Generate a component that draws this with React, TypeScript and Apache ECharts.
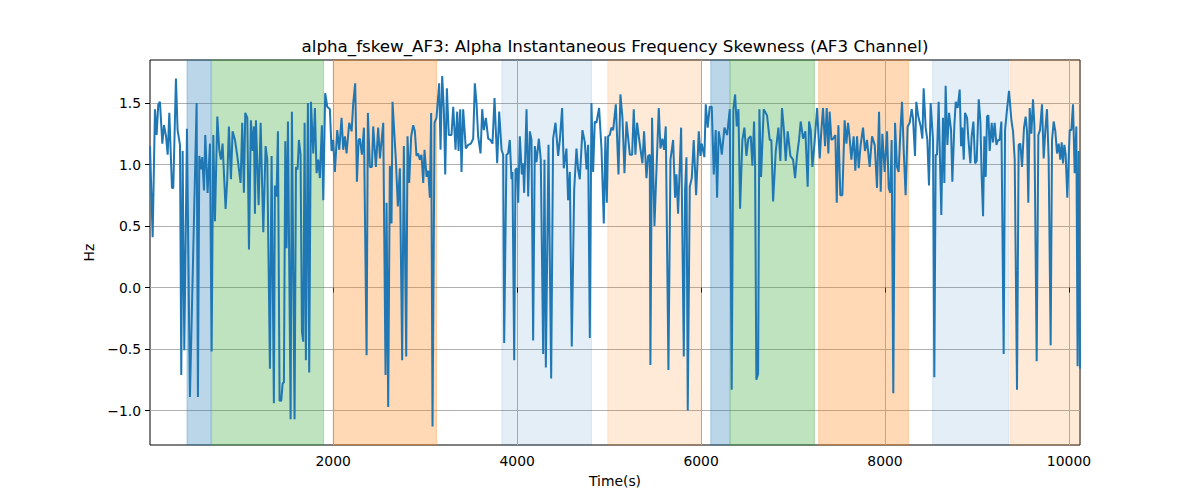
import { useEffect, useRef } from "react";
import * as echarts from "echarts";

const times = [
  8, 37, 62, 80, 98, 116, 142, 160, 182, 200, 218, 247, 261, 290, 308, 334, 348, 363, 381, 410,
  442, 515, 529, 544, 562, 576, 595, 609, 634, 660, 678, 696, 714, 740, 761, 779, 797, 830, 848, 866,
  888, 906, 932, 957, 993, 1011, 1029, 1044, 1066, 1084, 1105, 1124, 1138, 1149, 1160, 1189, 1211, 1240, 1265, 1283,
  1312, 1330, 1355, 1366, 1384, 1399, 1417, 1435, 1450, 1464, 1479, 1493, 1508, 1537, 1551, 1580, 1595, 1613, 1627, 1645,
  1660, 1674, 1689, 1703, 1725, 1739, 1758, 1783, 1801, 1819, 1837, 1855, 1877, 1892, 1913, 1935, 1964, 1982, 2000, 2018,
  2044, 2066, 2091, 2109, 2127, 2145, 2174, 2200, 2218, 2239, 2258, 2276, 2290, 2312, 2334, 2363, 2377, 2399, 2421, 2435,
  2464, 2489, 2508, 2544, 2569, 2580, 2598, 2616, 2634, 2645, 2681, 2703, 2725, 2750, 2768, 2794, 2808, 2826, 2848, 2870,
  2888, 2906, 2924, 2942, 2960, 2979, 2993, 3015, 3033, 3051, 3065, 3080, 3102, 3123, 3152, 3167, 3185, 3203, 3218, 3236,
  3257, 3286, 3305, 3330, 3348, 3363, 3381, 3395, 3413, 3442, 3468, 3497, 3522, 3540, 3558, 3576, 3602, 3620, 3638, 3660,
  3685, 3710, 3732, 3754, 3783, 3805, 3830, 3848, 3859, 3884, 3902, 3920, 3939, 3949, 3968, 3982, 4000, 4011, 4029, 4051,
  4065, 4076, 4102, 4120, 4138, 4156, 4174, 4192, 4210, 4236, 4257, 4283, 4297, 4312, 4341, 4370, 4391, 4417, 4446, 4464,
  4489, 4507, 4536, 4554, 4573, 4594, 4620, 4645, 4663, 4681, 4710, 4736, 4754, 4772, 4790, 4808, 4826, 4844, 4862, 4891,
  4917, 4942, 4960, 4975, 4989, 5007, 5025, 5044, 5073, 5102, 5123, 5145, 5167, 5189, 5225, 5250, 5268, 5286, 5304, 5333,
  5362, 5380, 5406, 5424, 5442, 5449, 5467, 5493, 5515, 5540, 5558, 5580, 5598, 5616, 5645, 5667, 5696, 5717, 5732, 5750,
  5783, 5812, 5826, 5841, 5855, 5877, 5899, 5920, 5946, 5975, 5993, 6007, 6036, 6051, 6072, 6094, 6116, 6138, 6159, 6174,
  6192, 6210, 6225, 6254, 6283, 6312, 6333, 6351, 6370, 6388, 6406, 6424, 6449, 6471, 6493, 6514, 6540, 6558, 6576, 6587,
  6601, 6620, 6634, 6652, 6681, 6717, 6746, 6764, 6783, 6812, 6841, 6862, 6880, 6902, 6920, 6942, 6971, 7000, 7022, 7043,
  7065, 7083, 7109, 7134, 7159, 7174, 7192, 7210, 7232, 7261, 7290, 7308, 7326, 7348, 7366, 7384, 7398, 7417, 7435, 7460,
  7475, 7493, 7514, 7536, 7561, 7580, 7598, 7616, 7634, 7659, 7677, 7696, 7714, 7735, 7761, 7782, 7804, 7833, 7859, 7888,
  7913, 7935, 7953, 7971, 7996, 8022, 8040, 8058, 8072, 8090, 8109, 8130, 8148, 8167, 8185, 8203, 8224, 8246, 8268, 8290,
  8304, 8326, 8340, 8362, 8388, 8406, 8420, 8442, 8460, 8478, 8496, 8522, 8536, 8551, 8565, 8583, 8612, 8630, 8645, 8659,
  8678, 8696, 8718, 8732, 8754, 8769, 8790, 8812, 8827, 8841, 8856, 8870, 8892, 8906, 8928, 8942, 8961, 8979, 8997, 9019,
  9037, 9051, 9066, 9080, 9095, 9109, 9124, 9138, 9160, 9174, 9192, 9211, 9229, 9247, 9265, 9290, 9305, 9327, 9348, 9374,
  9392, 9410, 9435, 9453, 9471, 9490, 9511, 9529, 9544, 9558, 9573, 9591, 9609, 9624, 9649, 9667, 9685, 9707, 9725, 9743,
  9761, 9779, 9801, 9816, 9834, 9852, 9870, 9888, 9906, 9921, 9935, 9950, 9964, 9982, 10008, 10026, 10044, 10062, 10080, 10094,
  10106, 10120,
];

const hz = [
  1.15, 0.41, 1.45, 1.24, 1.49, 1.51, 1.17, 1.32, 1.23, 1.08, 1.42, 0.81, 0.81, 1.7, 1.28, 1.16, -0.71, 1.11, -0.51, 1.29,
  -0.89, 1.5, -0.89, 1.07, 0.96, 1.06, 0.79, 1.24, 0.77, 1.17, -0.52, 1.24, 0.54, 1.39, 1.12, 1.04, 1.17, 0.64, 0.88, 1.31,
  0.88, 1.27, 1.2, 1.07, 0.85, 1.34, 0.77, 1.42, 1.38, 0.31, 1.36, 1.11, 1.31, 0.6, 1.36, 0.67, 1.34, 0.45, 1.15, 1.04,
  -0.66, 1.07, -0.94, 0.83, 0.74, 1.27, -0.92, -0.92, -0.78, -0.77, 1.19, 0.32, 1.35, -1.07, 1.43, -1.07, 0.98, 0.96, 1.2, 1.08,
  -0.36, -0.44, 1.34, -0.59, 1.5, -0.69, 1.51, 1.09, 1.46, 0.93, 1.04, 0.89, 1.32, 0.71, 1.58, 1.47, 1.45, 1.11, 1.2, 0.94,
  1.28, 1.12, 1.38, 1.12, 1.23, 1.09, 1.34, 1.27, 1.5, 1.66, 0.86, 1.2, 1.21, 1.08, 1.3, -0.55, 1.42, 0.98, 0.98, 1.31,
  0.98, 1.3, 1.05, 1.34, -0.71, 0.69, -0.97, 0.99, 0.52, 1.51, 1.04, 0.66, 0.97, -0.59, 1.15, -0.56, 1.23, 0.85, 1.23, 1.32,
  1.27, 1.07, 1.09, 1.04, 1.08, 0.85, 1.12, 0.9, 0.95, 0.73, 1.42, -1.13, 1.34, 1.38, 1.66, 1.12, 1.72, 1.45, 0.92, 1.62,
  1.24, 1.24, 1.47, 1.12, 1.43, 1.11, 1.45, 0.94, 1.45, 1.13, 1.16, 1.17, 1.21, 1.66, 1.5, 1.23, 1.09, 1.45, 1.28, 1.38,
  1.21, 1.2, 1.17, 1.54, 1.01, 1.43, 1.12, 1.08, -0.45, 1.08, 1.09, 1.2, 0.88, 0.94, -0.59, 0.96, 0.97, 0.69, 1.23, 0.92,
  1.01, 0.77, 1.45, 0.74, 1.27, 1.2, -0.43, 1.15, 1.02, 1.21, 1.04, -0.54, 1.04, -0.65, 1.16, -0.74, 1.21, 1.34, 1.07, 1.2,
  1.46, 0.97, 1.13, 0.71, 0.94, -0.48, 0.79, 1.13, 0.96, 0.88, 1.28, 1.18, 0.96, 1.16, -0.41, 1.5, 0.94, 1.35, 1.34, 1.46,
  1.13, 0.52, 1.23, 0.69, 1.23, 1.24, 1.3, 1.28, 1.49, 0.92, 1.57, 1.38, 0.93, 1.35, 1.08, 1.08, 1.45, 1.08, 1.34, 1.17,
  1.01, 1.27, 0.89, 1.07, 1.08, -0.63, 1.38, 0.5, 0.96, 1.46, 1.13, 1.21, 1.12, 1.31, -0.67, 1.04, 1.2, 0.73, 0.92, 0.6,
  1.3, -0.56, 0.79, 1.06, -1.0, 0.82, 0.89, 1.2, 0.75, 1.27, 1.07, 1.17, 1.06, 1.49, 1.3, 1.47, 1.47, 0.92, 1.28, 0.73,
  1.27, 1.18, 1.08, 1.3, 1.24, 1.45, -0.83, 1.45, 1.57, 1.31, 1.45, 0.64, 1.2, 1.3, 1.07, 1.21, 1.23, 0.99, 1.35, 1.0,
  -0.75, -0.7, 1.45, 0.9, 1.45, 1.4, 1.2, 1.2, 0.7, 1.11, 1.3, 1.03, 1.46, 1.27, 1.03, 1.27, 1.07, 1.04, 0.89, 1.07,
  1.2, 1.35, 1.21, 1.27, 0.82, 1.35, 1.28, 0.98, 1.16, 1.46, 1.05, 1.28, 1.46, 1.15, 1.46, 1.09, 1.43, 1.2, 1.21, 1.24,
  0.69, 1.32, 0.75, 0.75, 1.36, 1.17, 1.34, 1.21, 1.04, 1.23, 0.95, 1.23, 0.97, 1.16, 1.3, 1.11, 1.2, 0.98, 1.23, 1.16,
  0.81, 1.43, 0.78, 1.25, 0.94, 1.27, 0.81, 0.77, 1.2, -0.86, 1.34, 0.98, 0.94, 1.27, 1.51, 1.12, 0.75, 1.31, 1.34, 1.45,
  1.38, 1.07, 1.51, 1.39, 1.31, 1.21, 1.62, 1.3, 1.2, 0.83, 1.5, 1.2, -0.73, 1.08, 1.08, 1.51, 0.59, 1.38, 0.85, 1.64,
  1.16, 1.42, 1.28, 0.86, 1.32, 1.51, 1.46, 1.61, 1.15, 1.3, 1.04, 1.42, 1.38, 1.21, 1.01, 1.23, 1.35, 1.01, 1.03, 1.53,
  1.35, 0.9, 0.58, 1.23, 0.9, 1.39, 1.4, 1.11, 1.34, 1.18, 1.34, 1.16, 1.2, 1.2, 1.35, -0.54, 1.28, 1.45, 1.6, 1.36,
  1.27, 1.04, -0.83, 1.16, 1.17, 0.98, 1.3, 1.39, 1.27, 0.69, 1.46, 1.25, 1.53, 1.32, -0.6, 1.24, 1.28, 1.49, 1.05, 1.28,
  1.45, 1.05, -0.47, 1.2, 1.35, 1.27, 1.09, 1.17, 1.04, 1.18, 1.01, 1.16, 1.08, 0.73, 1.28, 1.28, 1.49, 0.93, 1.31, -0.64,
  1.11, -0.66,
];

// shaded segments (start, end, colour)
const bandStart = [410, 678, 2000, 3834, 4986, 6105, 6319, 7279, 8518, 9366];
const bandEnd = [671, 1895, 3124, 4808, 6004, 6312, 7232, 8254, 9348, 10120];
const bandColor = [
  "rgba(31,119,180,0.3)",
  "rgba(44,160,44,0.3)",
  "rgba(255,127,14,0.3)",
  "rgba(31,119,180,0.12)",
  "rgba(255,127,14,0.16)",
  "rgba(31,119,180,0.3)",
  "rgba(44,160,44,0.3)",
  "rgba(255,127,14,0.3)",
  "rgba(31,119,180,0.12)",
  "rgba(255,127,14,0.16)",
];

const xTicks = [2000, 4000, 6000, 8000, 10000];
const yTicks = [-1, -0.5, 0, 0.5, 1, 1.5];

const FONT = "DejaVu Sans";

export default function App() {
  const chartRef = useRef<HTMLDivElement>(null);

  useEffect(() => {
    document.body.style.margin = "0";
    if (!chartRef.current) return;
    const chart = echarts.init(chartRef.current, undefined, { renderer: "svg" });

    const points = times.map((t, i) => [t, hz[i]]);
    const areas = bandStart.map((s, i) => [
      {
        xAxis: s,
        itemStyle: { color: bandColor[i], borderColor: bandColor[i], borderWidth: 1 },
      },
      { xAxis: bandEnd[i] },
    ]);

    chart.setOption({
      animation: false,
      textStyle: { fontFamily: FONT },
      grid: {
        left: 150,
        right: 120,
        top: 60,
        bottom: 55,
        show: true,
        borderColor: "#000",
        borderWidth: 1,
        backgroundColor: "transparent",
      },
      graphic: [
        {
          type: "text",
          x: 615,
          y: 46,
          style: {
            text: "alpha_fskew_AF3: Alpha Instantaneous Frequency Skewness (AF3 Channel)",
            fontFamily: FONT,
            fontSize: 16.7,
            fill: "#000",
            align: "center",
            verticalAlign: "middle",
          },
        },
      ],
      xAxis: {
        type: "value",
        min: 8,
        max: 10120,
        name: "Time(s)",
        nameLocation: "middle",
        nameGap: 29,
        nameTextStyle: { fontFamily: FONT, fontSize: 13.9, color: "#000" },
        axisLine: { show: false },
        axisTick: {
          show: true,
          length: 5,
          customValues: xTicks,
          lineStyle: { color: "#000", width: 1 },
        },
        axisLabel: {
          customValues: xTicks,
          margin: 9,
          fontFamily: FONT,
          fontSize: 13.9,
          color: "#000",
          formatter: (v: number) => String(v),
        },
        splitLine: { show: true, lineStyle: { color: "#b0b0b0", width: 1 } },
      },
      yAxis: {
        type: "value",
        min: -1.28,
        max: 1.85,
        name: "Hz",
        nameLocation: "middle",
        nameGap: 50,
        nameTextStyle: { fontFamily: FONT, fontSize: 13.9, color: "#000" },
        axisLine: { show: false },
        axisTick: {
          show: true,
          length: 5,
          customValues: yTicks,
          lineStyle: { color: "#000", width: 1 },
        },
        axisLabel: {
          customValues: yTicks,
          margin: 9,
          fontFamily: FONT,
          fontSize: 13.9,
          color: "#000",
          formatter: (v: number) => v.toFixed(1).replace("-", "\u2212"),
        },
        splitLine: { show: true, lineStyle: { color: "#b0b0b0", width: 1 } },
      },
      series: [
        {
          name: "bands",
          type: "line",
          data: [],
          z: -1,
          silent: true,
          markArea: { silent: true, data: areas },
        },
        {
          name: "alpha_fskew_AF3",
          type: "line",
          data: points,
          showSymbol: false,
          symbol: "none",
          z: 3,
          lineStyle: { color: "#1f77b4", width: 2 },
          itemStyle: { color: "#1f77b4" },
        },
      ],
    });

    return () => chart.dispose();
  }, []);

  return <div ref={chartRef} style={{ width: 1200, height: 500 }} />;
}
